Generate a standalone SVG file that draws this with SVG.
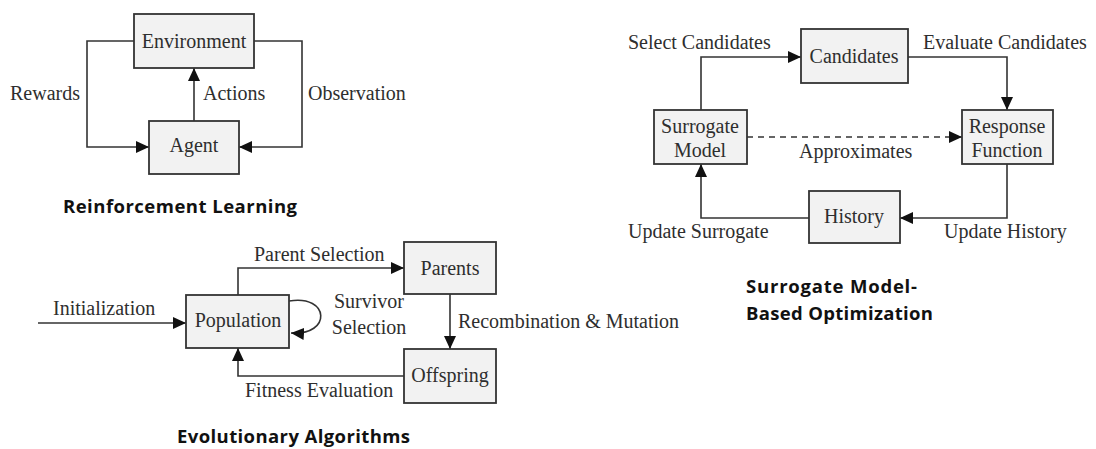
<svg xmlns="http://www.w3.org/2000/svg" width="1096" height="449" viewBox="0 0 1096 449">
  <style>
    .box { fill: #f2f2f2; stroke: #333; stroke-width: 1.8; }
    .wire { fill: none; stroke: #333; stroke-width: 1.6; }
    .dash { stroke-dasharray: 6 5; }
    .lbl { font-family: "Liberation Serif", "DejaVu Serif", serif; font-size: 20px; fill: #2e2e2e; }
    .mid { text-anchor: middle; }
    .title { font-family: "Open Sans", "Liberation Sans", sans-serif; font-weight: bold; font-size: 18.5px; fill: #111; }
  </style>
  <defs>
    <marker id="arrow" markerUnits="userSpaceOnUse" markerWidth="13" markerHeight="12" refX="13" refY="6" orient="auto">
      <path d="M0,0 L13,6 L0,12 z" fill="#111"/>
    </marker>
  </defs>
  <rect width="1096" height="449" fill="#ffffff"/>

  <!-- connectors -->
  <g id="connectors">
    <!-- reinforcement learning loop -->
    <path class="wire" d="M134,41 H87 V147 H149" marker-end="url(#arrow)"/>
    <path class="wire" d="M254,41 H302 V147 H239" marker-end="url(#arrow)"/>
    <path class="wire" d="M194,121 V68" marker-end="url(#arrow)"/>

    <!-- surrogate optimisation loop -->
    <path class="wire" d="M701,110 V57 H801" marker-end="url(#arrow)"/>
    <path class="wire" d="M908,57 H1007 V110" marker-end="url(#arrow)"/>
    <path class="wire dash" d="M747,137 H962" marker-end="url(#arrow)"/>
    <path class="wire" d="M1007,164 V218 H900" marker-end="url(#arrow)"/>
    <path class="wire" d="M809,218 H701 V164" marker-end="url(#arrow)"/>

    <!-- evolutionary loop -->
    <path class="wire" d="M38,323 H186" marker-end="url(#arrow)"/>
    <path class="wire" d="M238,295 V268 H404" marker-end="url(#arrow)"/>
    <path class="wire" d="M450,294 V349" marker-end="url(#arrow)"/>
    <path class="wire" d="M404,376 H238 V348" marker-end="url(#arrow)"/>
    <path class="wire" d="M289,301 C330,294 332,336 291,333" marker-end="url(#arrow)"/>
  </g>

  <!-- reinforcement learning nodes -->
  <g id="environment">
    <rect class="box" x="134" y="14" width="120" height="54"/>
    <text class="lbl mid" x="194" y="48">Environment</text>
  </g>
  <g id="agent">
    <rect class="box" x="149" y="121" width="90" height="53"/>
    <text class="lbl mid" x="194" y="152">Agent</text>
  </g>
  <g id="rl-labels">
    <text class="lbl" x="10" y="100">Rewards</text>
    <text class="lbl" x="203" y="100">Actions</text>
    <text class="lbl" x="308" y="100">Observation</text>
    <text class="title" x="63" y="213" textLength="234">Reinforcement Learning</text>
  </g>

  <!-- surrogate model-based optimisation nodes -->
  <g id="candidates">
    <rect class="box" x="801" y="29" width="107" height="54"/>
    <text class="lbl mid" x="854" y="63">Candidates</text>
  </g>
  <g id="surrogate-model">
    <rect class="box" x="654" y="110" width="93" height="54"/>
    <text class="lbl mid" x="700" y="133">Surrogate</text>
    <text class="lbl mid" x="700" y="157">Model</text>
  </g>
  <g id="response-function">
    <rect class="box" x="962" y="110" width="91" height="54"/>
    <text class="lbl mid" x="1007" y="133">Response</text>
    <text class="lbl mid" x="1007" y="157">Function</text>
  </g>
  <g id="history">
    <rect class="box" x="809" y="191" width="91" height="52"/>
    <text class="lbl mid" x="854" y="223">History</text>
  </g>
  <g id="smbo-labels">
    <text class="lbl" x="628" y="49">Select Candidates</text>
    <text class="lbl" x="923" y="49">Evaluate Candidates</text>
    <text class="lbl" x="799" y="158">Approximates</text>
    <text class="lbl" x="628" y="238">Update Surrogate</text>
    <text class="lbl" x="944" y="238">Update History</text>
    <text class="title" x="746" y="293" textLength="171">Surrogate Model-</text>
    <text class="title" x="746" y="320" textLength="187">Based Optimization</text>
  </g>

  <!-- evolutionary algorithm nodes -->
  <g id="population">
    <rect class="box" x="186" y="295" width="103" height="53"/>
    <text class="lbl mid" x="238" y="327">Population</text>
  </g>
  <g id="parents">
    <rect class="box" x="404" y="242" width="92" height="52"/>
    <text class="lbl mid" x="450" y="275">Parents</text>
  </g>
  <g id="offspring">
    <rect class="box" x="404" y="349" width="92" height="54"/>
    <text class="lbl mid" x="450" y="382">Offspring</text>
  </g>
  <g id="ea-labels">
    <text class="lbl" x="53" y="315">Initialization</text>
    <text class="lbl" x="254" y="261">Parent Selection</text>
    <text class="lbl mid" x="369" y="308">Survivor</text>
    <text class="lbl mid" x="369" y="334">Selection</text>
    <text class="lbl" x="458" y="328">Recombination &amp; Mutation</text>
    <text class="lbl" x="245" y="397">Fitness Evaluation</text>
    <text class="title" x="177" y="443" textLength="233">Evolutionary Algorithms</text>
  </g>
</svg>
